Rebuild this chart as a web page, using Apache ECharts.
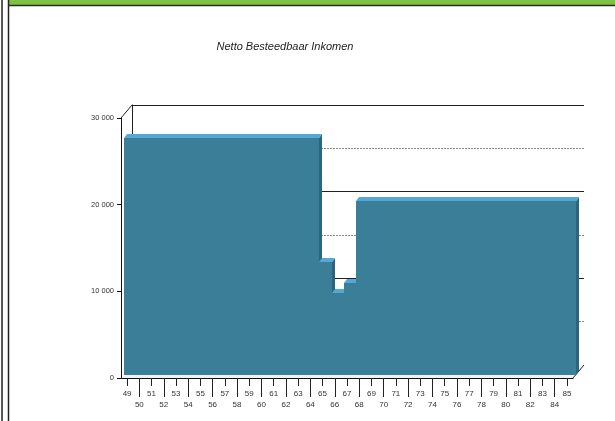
<!DOCTYPE html>
<html>
<head>
<meta charset="utf-8">
<script src="https://cdn.jsdelivr.net/npm/echarts@6/dist/echarts.min.js"></script>
<style>html,body{margin:0;padding:0;background:#fff;}#chart{width:615px;height:421px;}</style>
</head>
<body>
<div id="chart"></div>
<script>
// ---- data ----
var titleText = 'Netto Besteedbaar Inkomen';
var ages = ['49','50','51','52','53','54','55','56','57','58','59','60','61','62','63','64',
            '65','66','67','68','69','70','71','72','73','74','75','76','77','78','79','80',
            '81','82','83','84','85'];
var income = [27400,27400,27400,27400,27400,27400,27400,27400,27400,27400,27400,27400,27400,27400,27400,27400,
              13000,9500,10600,
              20100,20100,20100,20100,20100,20100,20100,20100,20100,20100,20100,20100,20100,20100,20100,20100,20100,20100];
var yTickValues = [0, 10000, 20000, 30000];
var yTickLabels = ['0', '10 000', '20 000', '30 000'];

// ---- layout ----
var FRONT = {left: 121, top: 118, width: 452, height: 260};
var DEPTH = {dx: 11, dy: -13};
var BAR_OFF = {dx: 3, dy: -3};
var BAR_DEPTH = {dx: 3, dy: -4};
var FONT = 'Liberation Sans, Arial, sans-serif';

var chart = echarts.init(document.getElementById('chart'), null, {renderer: 'canvas'});

function renderBar(params, api) {
  var idx = params.dataIndex;
  var i = api.value(0), v = api.value(1);
  var next = (idx + 1 < income.length) ? income[idx + 1] : null;
  var prev = (idx > 0) ? income[idx - 1] : null;
  var pTop = api.coord([i, v]);
  var pBot = api.coord([i, 0]);
  var bw = api.size([1, 0])[0];
  var x0 = Math.round(pTop[0] - bw / 2 + BAR_OFF.dx);
  var x1 = Math.round(pTop[0] + bw / 2 + BAR_OFF.dx);
  var yt = Math.round(pTop[1] + BAR_OFF.dy);
  var yb = Math.round(pBot[1] + BAR_OFF.dy);
  var ddx = BAR_DEPTH.dx, ddy = BAR_DEPTH.dy;
  var children = [];
  if (next === null || next < v) {
    children.push({type: 'polygon', shape: {points: [[x1, yt], [x1 + ddx, yt + ddy], [x1 + ddx, yb + ddy], [x1, yb]]},
       style: {fill: '#2c667d', stroke: null, lineWidth: 0}});
  }
  var extR = (next === v) ? 2 : 0;
  var extL = (prev === v) ? 2 : 0;
  children.push({type: 'polygon', shape: {points: [[x0 - extL, yt], [x1 + extR, yt], [x1 + ddx + extR, yt + ddy], [x0 + ddx - extL, yt + ddy]]},
       style: {fill: '#55a8d6', stroke: null, lineWidth: 0}});
  children.push({type: 'rect', shape: {x: x0, y: yt, width: x1 - x0, height: yb - yt},
       style: {fill: '#3b7e98', stroke: null, lineWidth: 0}});
  return {type: 'group', children: children};
}

var option = {
  backgroundColor: '#ffffff',
  animation: false,
  title: {
    text: titleText, left: 280, top: 36, textAlign: 'center',
    textStyle: {fontFamily: FONT, fontSize: 11, fontStyle: 'italic', fontWeight: 'normal', color: '#222'}
  },
  grid: [
    {left: FRONT.left, top: FRONT.top, width: FRONT.width, height: FRONT.height},
    {left: FRONT.left + DEPTH.dx, top: FRONT.top + DEPTH.dy, width: FRONT.width, height: FRONT.height}
  ],
  xAxis: [
    {gridIndex: 0, type: 'category', data: ages, boundaryGap: true, position: 'bottom',
     axisLine: {show: true, lineStyle: {color: '#111', width: 1}},
     axisTick: {show: true, alignWithLabel: true, length: 8, lineStyle: {color: '#222'},
                interval: function (idx) { return idx % 2 === 0; }},
     axisLabel: {interval: 0, margin: 10, fontFamily: FONT, fontSize: 8, color: '#333', lineHeight: 11,
                 formatter: function (val, idx) { return idx % 2 === 0 ? val : '\n' + val; }},
     splitLine: {show: false}, z: 5},
    {gridIndex: 0, type: 'category', data: ages, boundaryGap: true, position: 'bottom',
     axisLine: {show: false},
     axisTick: {show: true, alignWithLabel: true, length: 19, lineStyle: {color: '#222'},
                interval: function (idx) { return idx % 2 === 1; }},
     axisLabel: {show: false}, splitLine: {show: false}, z: 5},
    {gridIndex: 1, type: 'category', data: ages, show: false}
  ],
  yAxis: [
    {gridIndex: 0, type: 'value', min: 0, max: 30000, interval: 10000,
     axisLine: {show: true, lineStyle: {color: '#111', width: 1}},
     axisTick: {show: true, length: 4, lineStyle: {color: '#111'}},
     axisLabel: {margin: 7, fontFamily: FONT, fontSize: 7.5, color: '#333',
                 formatter: function (v) { var k = yTickValues.indexOf(v); return k >= 0 ? yTickLabels[k] : ''; }},
     splitLine: {show: false}, z: 5},
    {gridIndex: 1, type: 'value', min: 0, max: 30000, interval: 10000,
     axisLine: {show: true, lineStyle: {color: '#222', width: 1}},
     axisTick: {show: false}, axisLabel: {show: false},
     splitLine: {show: true, lineStyle: {color: '#222', width: 1}}},
    {gridIndex: 1, type: 'value', min: 0, max: 30000, interval: 5000,
     axisLine: {show: false}, axisTick: {show: false}, axisLabel: {show: false},
     splitLine: {show: true, lineStyle: {color: ['transparent', '#888'], width: 1, type: [2, 1]}}}
  ],
  graphic: [
    {type: 'rect', shape: {x: 9, y: 0, width: 606, height: 5}, style: {fill: '#7dc243'}, z: 10},
    {type: 'line', shape: {x1: 9, y1: 5.5, x2: 615, y2: 5.5}, style: {stroke: '#2b2b2b', lineWidth: 1.5}, z: 10},
    {type: 'line', shape: {x1: 2, y1: 0, x2: 2, y2: 421}, style: {stroke: '#222', lineWidth: 1.5}, z: 10},
    {type: 'line', shape: {x1: 8.5, y1: 0, x2: 8.5, y2: 421}, style: {stroke: '#222', lineWidth: 1.5}, z: 10},
    {type: 'line', shape: {x1: FRONT.left, y1: FRONT.top, x2: FRONT.left + DEPTH.dx, y2: FRONT.top + DEPTH.dy},
     style: {stroke: '#222', lineWidth: 1}, z: 1},
    {type: 'polygon', shape: {points: [
       [FRONT.left, FRONT.top + FRONT.height],
       [FRONT.left + FRONT.width, FRONT.top + FRONT.height],
       [FRONT.left + FRONT.width + DEPTH.dx, FRONT.top + FRONT.height + DEPTH.dy],
       [FRONT.left + DEPTH.dx, FRONT.top + FRONT.height + DEPTH.dy]]},
     style: {fill: '#f2f2f2'}, z: 1},
    {type: 'line', shape: {x1: FRONT.left + FRONT.width, y1: FRONT.top + FRONT.height,
                           x2: FRONT.left + FRONT.width + DEPTH.dx, y2: FRONT.top + FRONT.height + DEPTH.dy},
     style: {stroke: '#222', lineWidth: 1}, z: 1}
  ],
  series: [
    {type: 'custom', coordinateSystem: 'cartesian2d', xAxisIndex: 0, yAxisIndex: 0, z: 3,
     renderItem: renderBar,
     encode: {x: 0, y: 1},
     data: income.map(function (v, i) { return [i, v]; })}
  ]
};
chart.setOption(option);
</script>
</body>
</html>
